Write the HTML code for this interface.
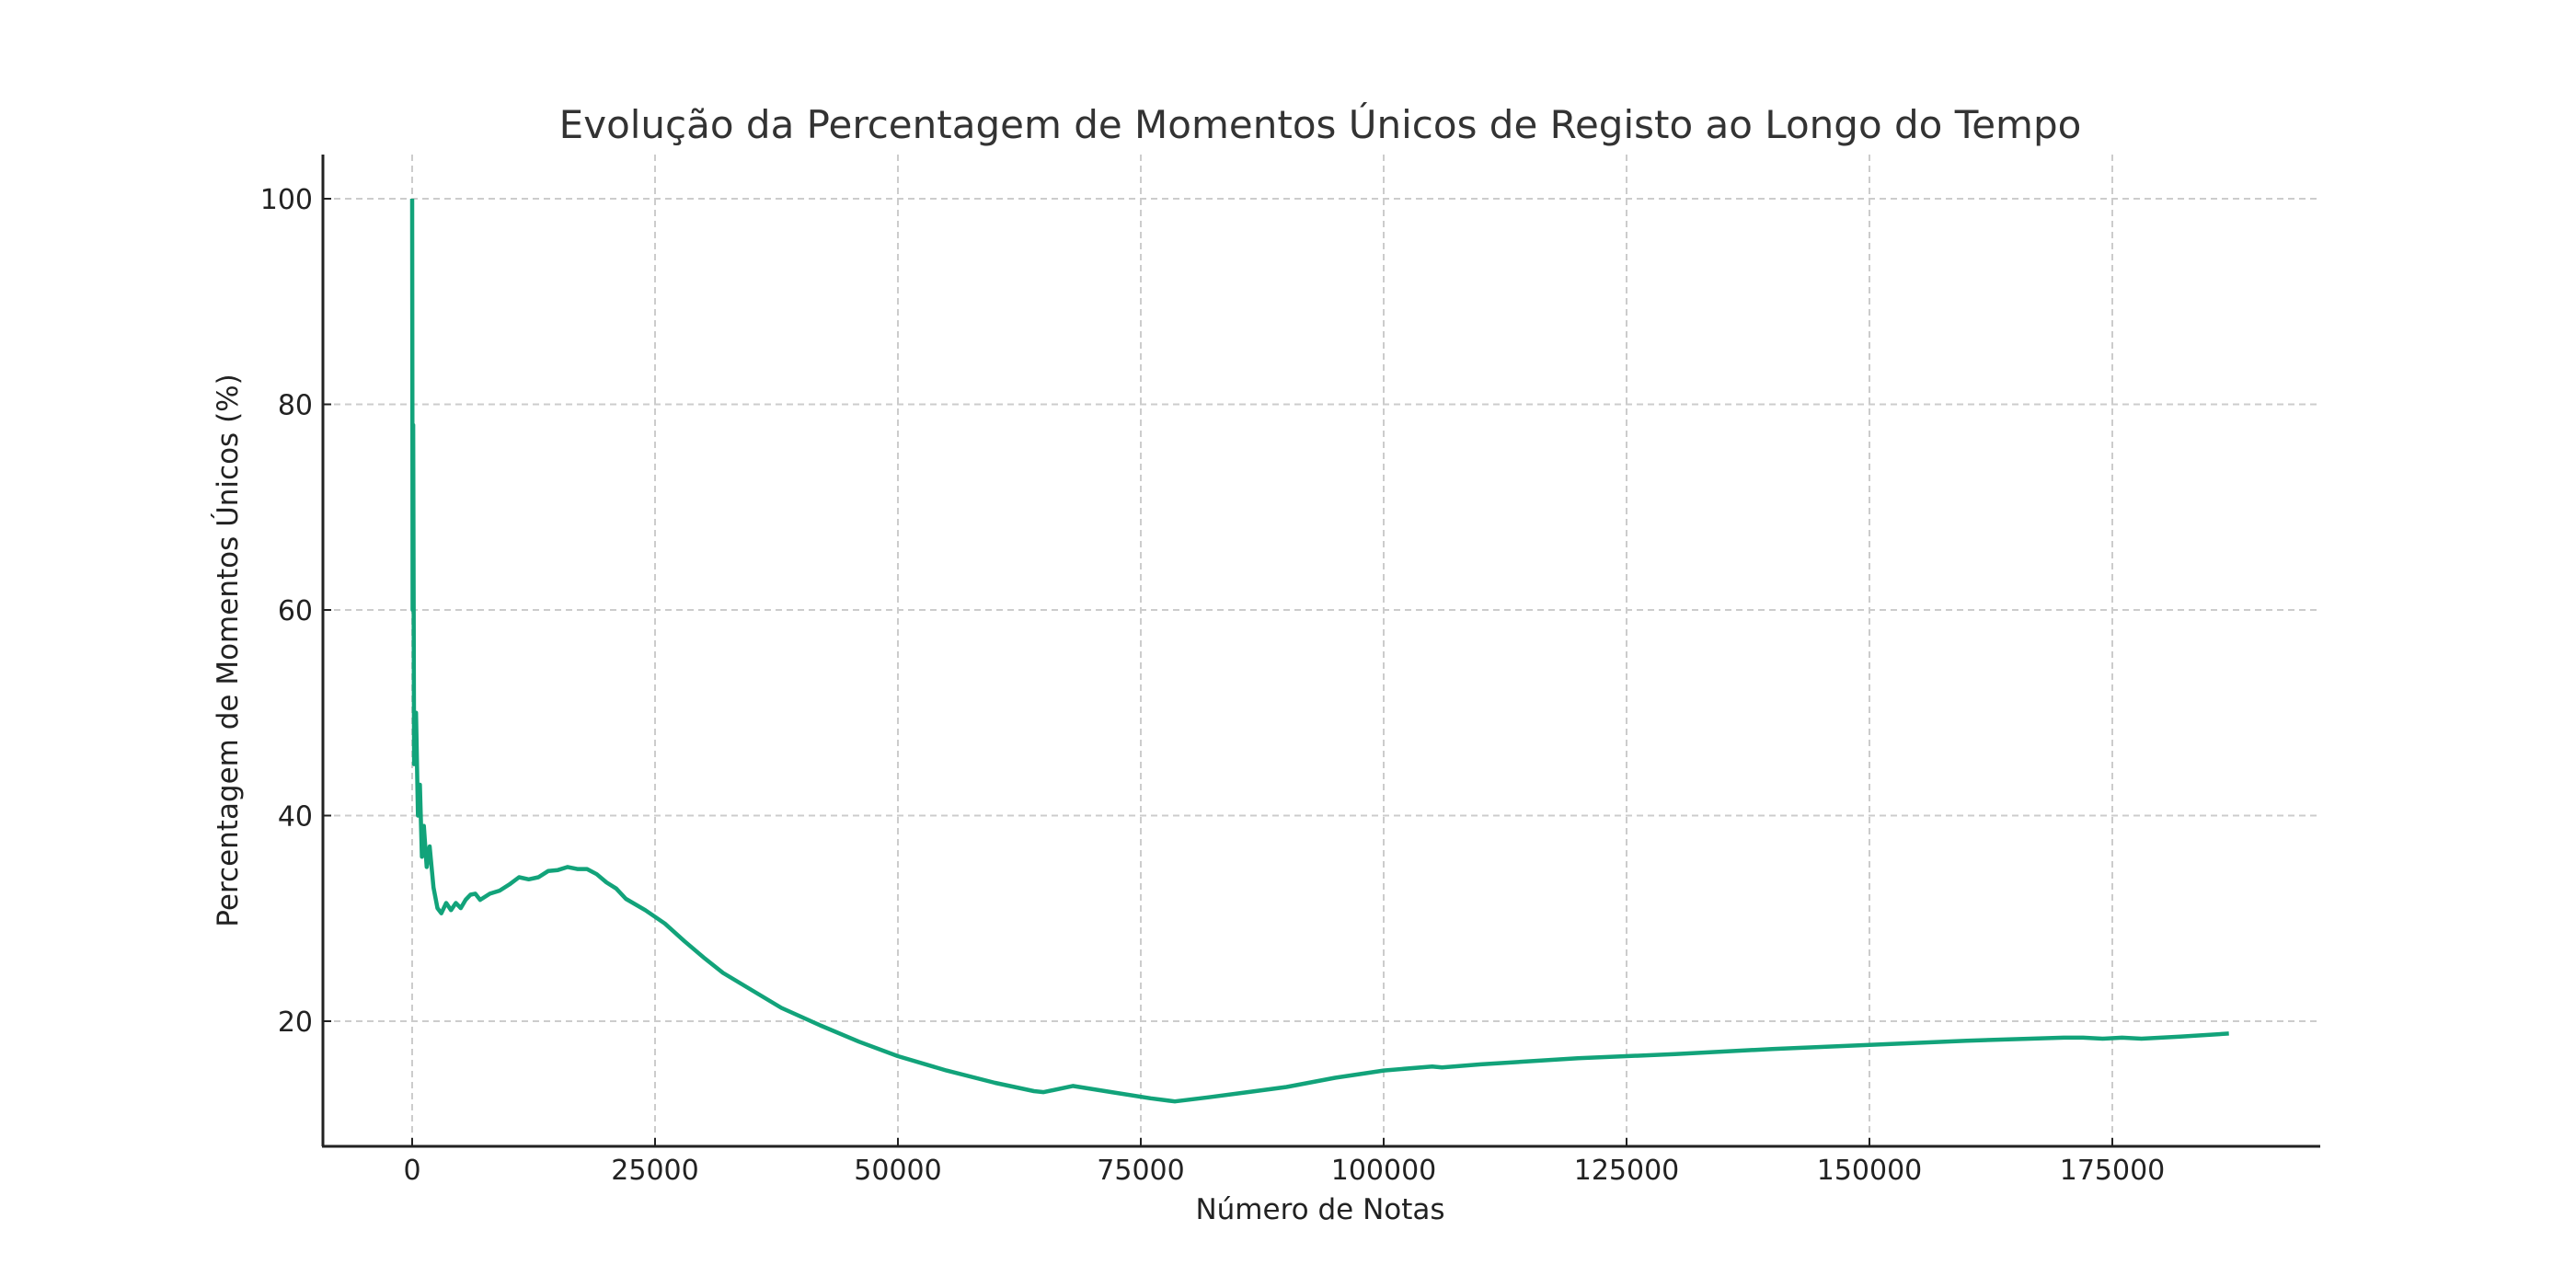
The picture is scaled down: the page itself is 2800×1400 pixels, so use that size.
<!DOCTYPE html>
<html><head><meta charset="utf-8"><style>
body{margin:0;background:#fff;}
svg{display:block;font-family:"DejaVu Sans","Liberation Sans",sans-serif;}
</style></head><body>
<svg id="chart" width="2800" height="1400" viewBox="0 0 2800 1400">
<rect width="2800" height="1400" fill="#fff"/>
<text x="1435" y="150" text-anchor="middle" font-size="42" fill="#333">Evolução da Percentagem de Momentos Únicos de Registo ao Longo do Tempo</text>
<g id="grid"></g>
<g id="ticks"></g>
<path id="series" fill="none" stroke="#12a37a" stroke-width="4.5" stroke-linejoin="round"/>
<line x1="351" y1="168" x2="351" y2="1246" stroke="#222" stroke-width="3"/>
<line x1="350" y1="1246" x2="2522" y2="1246" stroke="#222" stroke-width="3"/>
<text x="1435" y="1325" text-anchor="middle" font-size="31" fill="#222">Número de Notas</text>
<text transform="translate(258,707) rotate(-90)" text-anchor="middle" font-size="31" fill="#222">Percentagem de Momentos Únicos (%)</text>
</svg>
<script>
const xTicks=[0,25000,50000,75000,100000,125000,150000,175000];
const yTicks=[20,40,60,80,100];
const xVals=[0,50,100,200,400,600,800,1000,1200,1500,1800,2200,2600,3000,3500,4000,4500,5000,5500,6000,6500,7000,8000,9000,10000,11000,12000,13000,14000,15000,16000,17000,18000,19000,20000,21000,22000,24000,26000,28000,30000,32000,35000,38000,42000,46000,50000,55000,60000,64000,65000,68000,72000,76000,78500,82000,86000,90000,95000,100000,105000,106000,110000,120000,130000,140000,150000,160000,170000,172000,174000,176000,178000,182000,187000];
const yVals=[100,60,78,45,50,40,43,36,39,35,37,33,31,30.5,31.5,30.8,31.5,31,31.8,32.3,32.4,31.8,32.4,32.7,33.3,34,33.8,34,34.6,34.7,35,34.8,34.8,34.3,33.5,32.9,31.9,30.8,29.5,27.8,26.2,24.7,23,21.3,19.6,18,16.6,15.2,14,13.2,13.1,13.7,13.1,12.5,12.2,12.6,13.1,13.6,14.5,15.2,15.6,15.5,15.8,16.4,16.8,17.3,17.7,18.1,18.4,18.4,18.3,18.4,18.3,18.5,18.8];
const NS="http://www.w3.org/2000/svg";
const xs=v=>448+v/25000*264;
const ys=v=>1110-(v-20)*223.5/20;
const grid=document.getElementById('grid'),tk=document.getElementById('ticks');
function mk(t,a,p){const e=document.createElementNS(NS,t);for(const k in a)e.setAttribute(k,a[k]);p.appendChild(e);return e;}
xTicks.forEach(v=>{const x=xs(v);
const g=mk('line',{x1:x,y1:168,x2:x,y2:1246,stroke:'#ccc','stroke-width':2,'stroke-dasharray':'7,5'},grid);


const t=mk('line',{x1:x,y1:1246,x2:x,y2:1237,stroke:'#222','stroke-width':2},tk);


const l=mk('text',{x:x,y:1282,'text-anchor':'middle','font-size':30,fill:'#222'},tk);l.textContent=v;

});
yTicks.forEach(v=>{const y=ys(v);
const g=mk('line',{x1:351,y1:y,x2:2522,y2:y,stroke:'#ccc','stroke-width':2,'stroke-dasharray':'7,5'},grid);


const t=mk('line',{x1:351,y1:y,x2:360,y2:y,stroke:'#222','stroke-width':2},tk);


const l=mk('text',{x:340,y:y+11,'text-anchor':'end','font-size':30,fill:'#222'},tk);l.textContent=v;

});
document.getElementById('series').setAttribute('d',xVals.map((v,i)=>(i?'L':'M')+xs(v).toFixed(1)+','+ys(yVals[i]).toFixed(1)).join(' '));
</script>
</body></html>
